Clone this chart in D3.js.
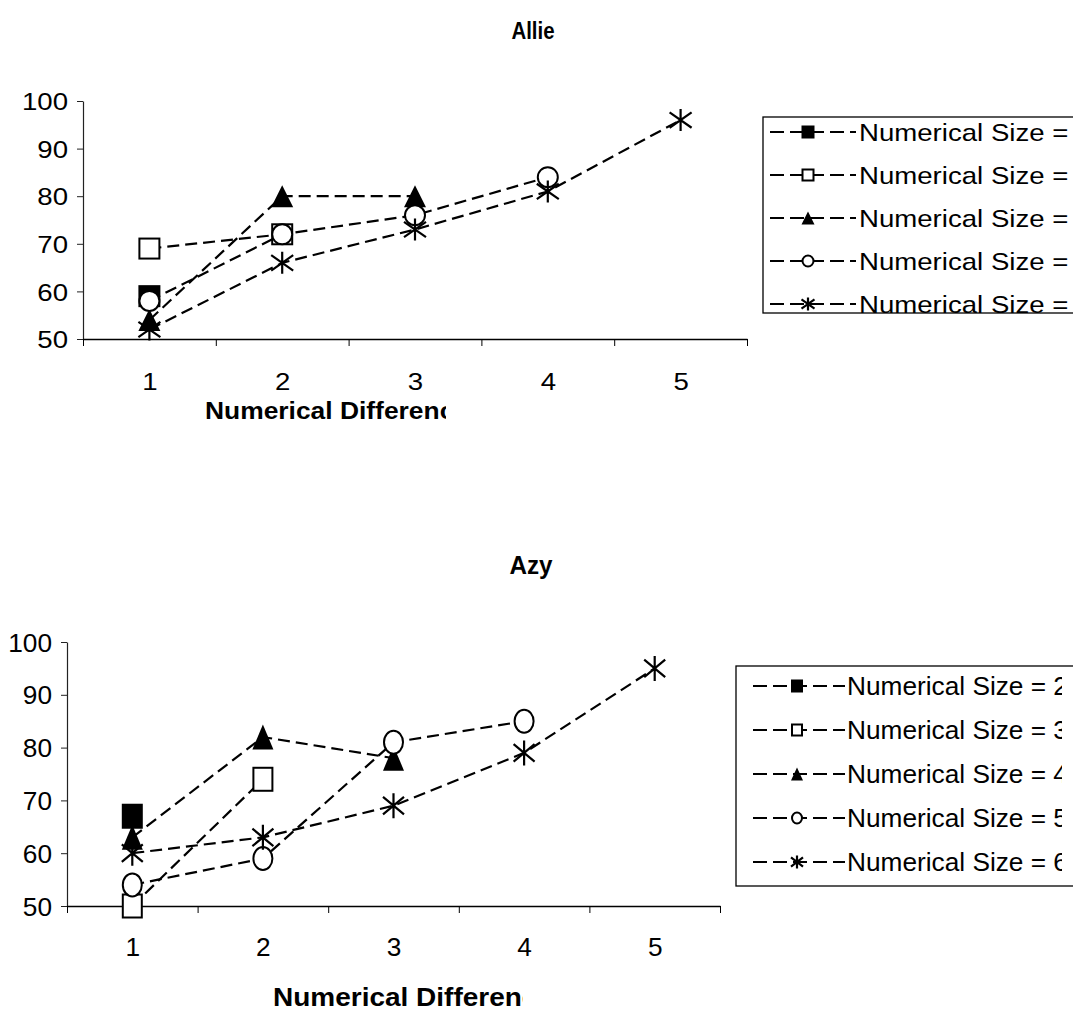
<!DOCTYPE html>
<html>
<head>
<meta charset="utf-8">
<script src="https://cdn.jsdelivr.net/npm/d3@7"></script>
<style>
  body { margin: 0; background: #fff; }
  text { font-family: "Liberation Sans", Arial, sans-serif; fill: #000; }
</style>
</head>
<body>
<svg id="chart" width="1073" height="1014"></svg>
<script>
// categories on the x axis (numerical difference)
const categories = [1, 2, 3, 4, 5];
const yTicks = [50, 60, 70, 80, 90, 100];
const seriesLabels = [
    'Numerical Size = 2',
    'Numerical Size = 3',
    'Numerical Size = 4',
    'Numerical Size = 5',
    'Numerical Size = 6'
];
const markerTypes = ['squareFilled', 'squareOpen', 'triangle', 'circle', 'asterisk'];

// Allie
const allieSize2 = [59];
const allieSize3 = [69, 72];
const allieSize4 = [54, 80, 80];
const allieSize5 = [58, 72, 76, 84];
const allieSize6 = [52, 66, 73, 81, 96];

// Azy
const azySize2 = [67];
const azySize3 = [50, 74];
const azySize4 = [63, 82, 78];
const azySize5 = [54, 59, 81, 85];
const azySize6 = [60, 63, 69, 79, 95];

const panels = [
    {
        id: 'allie', title: 'Allie', titleX: 533, titleY: 39, titleSx: 0.85,
        series: [allieSize2, allieSize3, allieSize4, allieSize5, allieSize6],
        left: 83, right: 747, top: 101, bottom: 339,
        font: 24, sx: 1.15, yPad: 15, xLabelOff: 51,
        xTitle: 'Numerical Difference', xTitleX: 205, xTitleY: 419, xTitleClip: 446, xTitleSx: 1.1,
        mw: 22, mh: 22,
        legend: { x: 763, y: 117, h: 196, x0: 770, x1: 856, mx: 808, tx: 859, row0: 132, step: 43, clip: 1073, mw: 13, mh: 13 }
    },
    {
        id: 'azy', title: 'Azy', titleX: 531, titleY: 574, titleSx: 0.97,
        series: [azySize2, azySize3, azySize4, azySize5, azySize6],
        left: 67, right: 720, top: 642, bottom: 906,
        font: 25, sx: 1.05, yPad: 15, xLabelOff: 50,
        xTitle: 'Numerical Difference', xTitleX: 273, xTitleY: 1006, xTitleClip: 523, xTitleSx: 1.12,
        mw: 21, mh: 25,
        legend: { x: 736, y: 666, h: 220, x0: 753, x1: 845, mx: 797, tx: 847, row0: 686, step: 44, clip: 1062, mw: 12, mh: 13 }
    }
];

const svg = d3.select('#chart');
const defs = svg.append('defs');

function stretch(sel, x, y, sx) {
    sel.attr('x', 0).attr('y', 0)
        .attr('transform', `translate(${x},${y}) scale(${sx},1)`);
}

function drawMarker(g, type, w, h) {
    const hw = w / 2, hh = h / 2;
    if (type === 'squareFilled' || type === 'squareOpen') {
        g.append('rect')
            .attr('x', -hw + 1).attr('y', -hh + 1)
            .attr('width', w - 2).attr('height', h - 2)
            .attr('fill', type === 'squareFilled' ? '#000' : '#fff')
            .attr('stroke', '#000').attr('stroke-width', 2);
    } else if (type === 'triangle') {
        g.append('path')
            .attr('d', `M0,${-hh} L${hw},${hh} L${-hw},${hh} Z`)
            .attr('fill', '#000');
    } else if (type === 'circle') {
        g.append('ellipse')
            .attr('rx', hw - 1).attr('ry', hh - 1)
            .attr('fill', '#fff')
            .attr('stroke', '#000').attr('stroke-width', 2);
    } else {
        g.append('path')
            .attr('d', `M0,${-hh} V${hh} M${-hw},${-hh * 0.7} L${hw},${hh * 0.7} M${hw},${-hh * 0.7} L${-hw},${hh * 0.7}`)
            .attr('fill', 'none')
            .attr('stroke', '#000').attr('stroke-width', 2.2);
    }
}

function drawPanel(p) {
    const g = svg.append('g').attr('class', p.id);

    const x = d3.scaleLinear().domain([0.5, 5.5]).range([p.left, p.right]);
    const y = d3.scaleLinear().domain([50, 100]).range([p.bottom, p.top]);

    // title
    g.append('text')
        .attr('text-anchor', 'middle')
        .attr('font-size', p.font).attr('font-weight', 'bold')
        .text(p.title)
        .call(stretch, p.titleX, p.titleY, p.titleSx);

    // y axis
    const yAxis = g.append('g')
        .attr('transform', `translate(${p.left},0)`)
        .call(d3.axisLeft(y).tickValues(yTicks).tickSize(6).tickSizeOuter(0));
    yAxis.select('.domain').attr('stroke', '#222').attr('stroke-width', 1.2);
    yAxis.selectAll('line').attr('stroke', '#222');
    yAxis.selectAll('text')
        .attr('font-size', p.font).attr('font-family', null)
        .attr('text-anchor', 'end').attr('dy', '0.36em')
        .attr('x', 0)
        .attr('transform', `translate(${-p.yPad},0) scale(${p.sx},1)`);

    // x axis: ticks between categories
    const boundaries = d3.range(0.5, 6, 1);
    const xAxis = g.append('g')
        .attr('transform', `translate(0,${p.bottom})`)
        .call(d3.axisBottom(x).tickValues(boundaries).tickSize(7).tickSizeOuter(0).tickFormat(''));
    xAxis.select('.domain').attr('stroke', '#000').attr('stroke-width', 1.5);
    xAxis.selectAll('line').attr('stroke', '#000');

    const xLabels = g.append('g')
        .attr('transform', `translate(0,${p.bottom})`)
        .call(d3.axisBottom(x).tickValues(categories).tickSize(0).tickFormat(d3.format('d')));
    xLabels.select('.domain').remove();
    xLabels.selectAll('text')
        .attr('font-size', p.font).attr('font-family', null)
        .attr('dy', 0).attr('y', 0)
        .attr('transform', `translate(0,${p.xLabelOff}) scale(${p.sx},1)`);

    // x axis title, clipped like the original
    defs.append('clipPath').attr('id', `clip-x-${p.id}`)
        .append('rect').attr('x', 0).attr('y', 0)
        .attr('width', p.xTitleClip).attr('height', 1014);
    g.append('g').attr('clip-path', `url(#clip-x-${p.id})`)
        .append('text')
        .attr('font-size', p.font).attr('font-weight', 'bold')
        .text(p.xTitle)
        .call(stretch, p.xTitleX, p.xTitleY, p.xTitleSx);

    // series
    const line = d3.line().x((d, i) => x(categories[i])).y(d => y(d));
    p.series.forEach((vals, si) => {
        const sg = g.append('g').attr('class', `series s${si}`);
        sg.append('path')
            .attr('d', line(vals))
            .attr('fill', 'none')
            .attr('stroke', '#000').attr('stroke-width', 2.2)
            .attr('stroke-dasharray', '12,6');
        sg.selectAll('g.mark')
            .data(vals)
            .join('g')
            .attr('class', 'mark')
            .attr('transform', (d, i) => `translate(${x(categories[i])},${y(d)})`)
            .each(function () { drawMarker(d3.select(this), markerTypes[si], p.mw, p.mh); });
    });

    // legend
    const L = p.legend;
    const lg = g.append('g').attr('class', 'legend');
    lg.append('rect')
        .attr('x', L.x).attr('y', L.y)
        .attr('width', 500).attr('height', L.h)
        .attr('fill', '#fff').attr('stroke', '#000').attr('stroke-width', 1.3);

    // clip box in the legend's own coordinates (rows are not translated inside it)
    defs.append('clipPath').attr('id', `clip-l-${p.id}`)
        .append('rect').attr('x', 0).attr('y', 0)
        .attr('width', L.clip).attr('height', 1014);

    const rows = lg.append('g')
        .attr('clip-path', `url(#clip-l-${p.id})`)
        .selectAll('g.row')
        .data(seriesLabels)
        .join('g')
        .attr('class', 'row')
        .attr('transform', (d, i) => `translate(0,${L.row0 + i * L.step})`);
    rows.append('line')
        .attr('x1', L.x0).attr('x2', L.x1)
        .attr('stroke', '#000').attr('stroke-width', 2)
        .attr('stroke-dasharray', '14,6');
    rows.append('g')
        .attr('transform', `translate(${L.mx},0)`)
        .each(function (d, i) { drawMarker(d3.select(this), markerTypes[i], L.mw, L.mh); });
    rows.append('text')
        .attr('font-size', p.font).attr('dy', '0.36em')
        .text(d => d)
        .call(stretch, L.tx, 0, p.sx);
}

panels.forEach(drawPanel);
</script>
</body>
</html>
